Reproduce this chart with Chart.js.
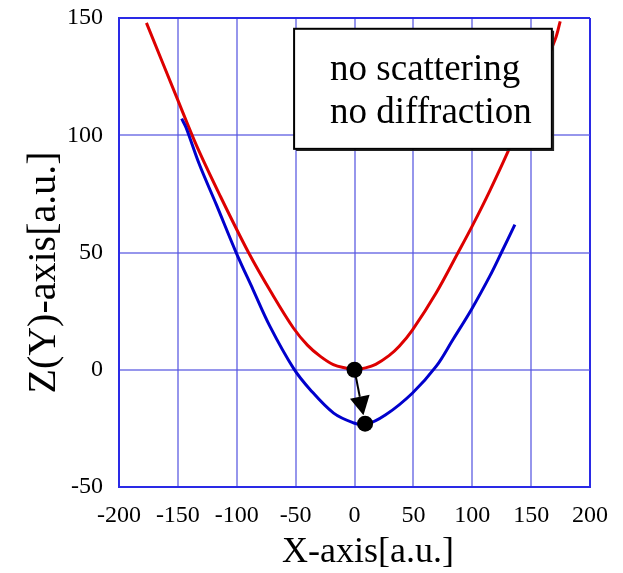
<!DOCTYPE html>
<html><head><meta charset="utf-8">
<script src="https://cdn.jsdelivr.net/npm/chart.js@4/dist/chart.umd.min.js"></script>
<style>html,body{margin:0;padding:0;background:#fff;}#wrap{width:623px;height:573px;}</style>
</head><body><div id="wrap"><canvas id="c" width="623" height="573"></canvas></div>
<script>
// ---- data ----
const redX  = [-176.7,-150.2,-134.5,-114.6,-90,-70.4,-51.9,-40,-29,-18,-6.2,0,9.4,18,29.3,38,49.3,69.3,88,100.6,114.8,130.5,150,170.4,174.7];
const redZ  = [147.9,115.2,96,74.7,50,32.7,17.8,10.5,5.7,2.2,0.6,0,0.8,2.3,6,10,17,32.7,50,61.9,76.2,93.2,116,140.8,148.6];
const blueX = [-146.8,-143,-131.7,-117.4,-100.7,-86.1,-71.8,-51.9,-37.6,-17.7,-0.6,8.8,26.5,49.3,69.3,83.5,99.2,114.8,124.8,136.2];
const blueZ = [107.1,103.2,87.5,70.5,50.2,34.1,18.5,0.7,-8.5,-18.5,-22.7,-23.5,-19.2,-9.9,1.4,12.8,25.6,39.8,50,61.9];
const dotX = [0, 9];
const dotZ = [0, -23];
const xTicks = [-200,-150,-100,-50,0,50,100,150,200];
const yTicks = [-50,0,50,100,150];
const noteLines = ["no scattering","no diffraction"];
const xTitle = "X-axis[a.u.]";
const yTitle = "Z(Y)-axis[a.u.]";

const pts = (xs, zs) => xs.map((v,i)=>({x:v, y:zs[i]}));
const FONT = "'Liberation Serif','Times New Roman',serif";
const GRID = 'rgba(85,85,225,0.62)';
const EDGE = '#2a2ae6';
const NB = '\u00A0';

// note box corners in data units
const noteBox = {x1:-51.3, x2:167.6, zTop:145.4, zBottom:94.2};

const overlay = {
  id:'overlay',
  afterDatasetsDraw(chart){
    const {ctx, scales:{x, y}} = chart;
    ctx.save();
    const sx=x.getPixelForValue(dotX[0]), sy=y.getPixelForValue(dotZ[0]);
    const ex=x.getPixelForValue(dotX[1]), ey=y.getPixelForValue(dotZ[1]);
    const dx=ex-sx, dy=ey-sy, L=Math.hypot(dx,dy), ux=dx/L, uy=dy/L;
    const tipX=ex-ux*8.5, tipY=ey-uy*8.5;
    const headL=19, headW=10;
    const bx=tipX-ux*headL, by=tipY-uy*headL;
    ctx.strokeStyle='#000'; ctx.lineWidth=2;
    ctx.beginPath(); ctx.moveTo(sx,sy); ctx.lineTo(bx,by); ctx.stroke();
    ctx.fillStyle='#000';
    ctx.beginPath(); ctx.moveTo(tipX,tipY);
    ctx.lineTo(bx-uy*headW, by+ux*headW); ctx.lineTo(bx+uy*headW, by-ux*headW);
    ctx.closePath(); ctx.fill();
    const bx1=x.getPixelForValue(noteBox.x1), bx2=x.getPixelForValue(noteBox.x2);
    const by1=y.getPixelForValue(noteBox.zTop), by2=y.getPixelForValue(noteBox.zBottom);
    ctx.fillStyle='#fff';
    ctx.fillRect(bx1,by1,bx2-bx1,by2-by1);
    ctx.strokeStyle='#222'; ctx.lineWidth=1.5;
    ctx.beginPath(); ctx.moveTo(bx2+1.5,by1+2); ctx.lineTo(bx2+1.5,by2+1.5); ctx.lineTo(bx1+2,by2+1.5); ctx.stroke();
    ctx.strokeStyle='#000'; ctx.lineWidth=2;
    ctx.strokeRect(bx1,by1,bx2-bx1,by2-by1);
    ctx.fillStyle='#000'; ctx.font='37px '+FONT; ctx.textAlign='left'; ctx.textBaseline='alphabetic';
    noteLines.forEach((t,i)=>ctx.fillText(t, bx1+36, by1+51+i*43));
    ctx.restore();
  }
};

new Chart(document.getElementById('c'), {
  type:'scatter',
  data:{datasets:[
    {data:pts(redX,redZ), showLine:true, borderColor:'#dd0000', borderWidth:3, pointRadius:0, tension:0.35, order:3},
    {data:pts(blueX,blueZ), showLine:true, borderColor:'#0000cc', borderWidth:3, pointRadius:0, tension:0.35, order:2},
    {data:pts(dotX,dotZ), showLine:false, pointRadius:8, pointBackgroundColor:'#000', pointBorderColor:'#000', pointBorderWidth:0, order:1}
  ]},
  options:{
    responsive:false, animation:false, devicePixelRatio:1,
    layout:{padding:{left:0,right:33,top:18,bottom:0}},
    plugins:{legend:{display:false}, tooltip:{enabled:false}, title:{display:false}},
    scales:{
      x:{type:'linear', min:-200, max:200,
        afterBuildTicks:(s)=>{s.ticks=xTicks.map(v=>({value:v}));},
        afterFit:(s)=>{s.height=86; s.paddingLeft=0; s.paddingRight=0;},
        ticks:{color:'#000', font:{family:FONT,size:24}, padding:14, maxRotation:0, autoSkip:false},
        grid:{drawTicks:false, lineWidth:2, color:(c)=> (c.tick && c.tick.value===200) ? EDGE : GRID},
        border:{display:true, color:EDGE, width:2},
        title:{display:true, text:NB+NB+NB+xTitle, color:'#000', font:{family:FONT,size:36,lineHeight:1}, padding:{top:0,bottom:2}}
      },
      y:{type:'linear', min:-50, max:150,
        afterBuildTicks:(s)=>{s.ticks=yTicks.map(v=>({value:v}));},
        afterFit:(s)=>{s.width=119; s.paddingTop=0; s.paddingBottom=0;},
        ticks:{color:'#000', font:{family:FONT,size:24}, padding:16, autoSkip:false},
        grid:{drawTicks:false, lineWidth:2, color:(c)=> (c.tick && c.tick.value===150) ? EDGE : GRID},
        border:{display:true, color:EDGE, width:2},
        title:{display:true, text:yTitle+NB+NB+NB+NB, color:'#000', font:{family:FONT,size:40,lineHeight:1}, padding:{top:24,bottom:0}}
      }
    }
  },
  plugins:[overlay]
});
</script></body></html>
